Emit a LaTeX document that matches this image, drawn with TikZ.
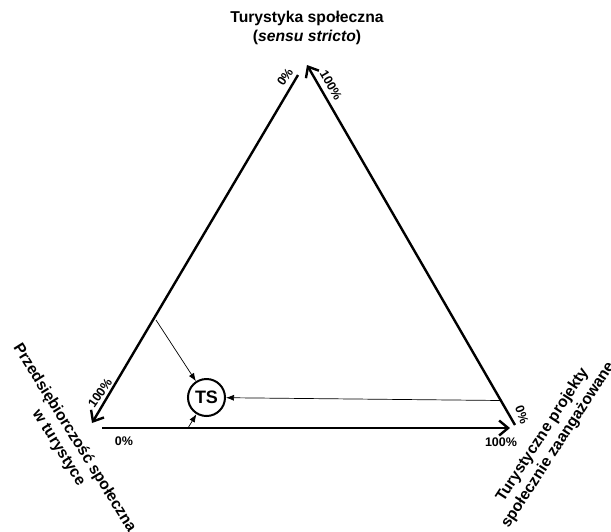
\documentclass[tikz,border=0pt]{standalone}
\usepackage{fontspec}
\setmainfont{Liberation Sans}
\usetikzlibrary{arrows.meta}
\begin{document}
\begin{tikzpicture}[x=1pt, y=-1pt,
  side/.style={line width=2.4pt, -{Straight Barb[length=9pt, width=15pt, line width=2.4pt]}},
  thinarrow/.style={line width=0.7pt, -{Latex[length=8pt, width=6pt]}},
  corner/.style={font=\bfseries\fontsize{15.7}{18.6}\selectfont, align=center, inner sep=0pt},
  pct/.style={font=\bfseries\fontsize{12.5}{14}\selectfont, inner sep=0pt}]
  \useasboundingbox (0,0) rectangle (611,531);

  % corner labels
  \node[corner] (spol) at (307,28) {Turystyka społeczna\\(\textit{sensu stricto})};
  \node[corner, rotate=-58] (przed) at (66.5,443) {Przedsiębiorczość społeczna\\w turystyce};
  \node[corner, rotate=57] (proj) at (550.5,440) {Turystyczne projekty\\społecznie zaangażowane};

  % triangle sides
  \coordinate (leftTop) at (298,75);
  \coordinate (leftEnd) at (92,423);
  \coordinate (botStart) at (102,428);
  \coordinate (botEnd) at (510,428);
  \coordinate (rightStart) at (515,425);
  \coordinate (rightEnd) at (307,65);
  \draw[side] (leftTop) -- (leftEnd);
  \draw[side] (botStart) -- (botEnd);
  \draw[side] (rightStart) -- (rightEnd);

  % percentages
  \node[pct, rotate=55] (top0) at (285,77) {0\%};
  \node[pct, rotate=-60] (top100) at (331,85) {100\%};
  \node[pct, rotate=55] (left100) at (100,393) {100\%};
  \node[pct] (bot0) at (124,441) {0\%};
  \node[pct] (bot100) at (501,442) {100\%};
  \node[pct, rotate=-70] (right0) at (522,415) {0\%};

  % point TS
  \node[circle, draw, line width=2pt, minimum size=37pt, inner sep=0pt,
        font=\bfseries\fontsize{18}{18}\selectfont] (ts) at (206.5,397.5) {TS};
  \coordinate (pL) at (156,320);
  \coordinate (pB) at (188,428);
  \coordinate (pR) at (501,400.5);
  \draw[thinarrow] (pL) -- (ts);
  \draw[thinarrow] (pB) -- (ts);
  \draw[thinarrow] (pR) -- (ts);
\end{tikzpicture}
\end{document}
